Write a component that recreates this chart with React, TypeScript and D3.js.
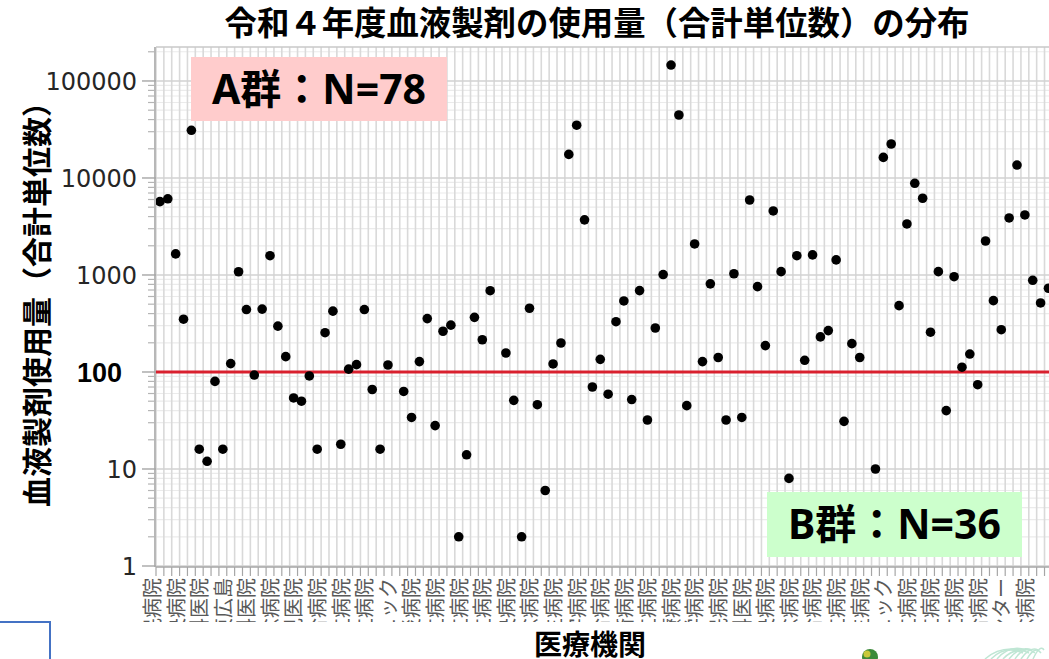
import React from "react";
import * as d3 from "d3";

// 使用量（合計単位数）— 医療機関の並び順どおり。null は描かれていない施設
const usage: (number | null)[] = [
  5700, 6100, 1650, 350, 31000, 16, 12, 80, 16, 122,
  1080, 440, 93, 445, 1580, 297, 144, 54, 50, 91,
  16, 254, 424, 18, 107, 119, 440, 66, 16, 118,
  null, 63, 34, 128, 355, 28, 263, 304, 2, 14,
  366, 215, 689, null, 157, 51, 2, 454, 46, 6,
  121, 199, 17500, 35000, 3700, 70, 135, 59, 330, 540,
  52, 690, 32, 284, 1010, 146000, 44600, 45, 2090, 128,
  810, 141, 32, 1030, 34, 5930, 758, 187, 4570, 1082,
  8, 1580, 132, 1610, 230, 267, 1430, 31, 196, 141,
  null, 10, 16300, 22400, 483, 3360, 8810, 6180, 257, 1082,
  40, 960, 112, 153, 74, 2240, 544, 273, 3870, 13600,
  4160, 882, 515, 730,
];

// 3施設ごとに表示されている軸ラベル（下側はスライドで隠れている）
const shownLabels = [
  "市民病院", "中央病院", "内科医院", "東広島", "外科医院", "記念病院",
  "小児医院", "総合病院", "協立病院", "共立病院", "クリニック", "労災病院",
  "市立病院", "町立病院", "県立病院", "中央病院", "記念病院", "厚生病院",
  "赤十字病院", "総合病院", "共済病院", "国立病院", "医療病院", "大学病院",
  "市民病院", "眼科医院", "中央病院", "記念病院", "総合病院", "協立病院",
  "厚生病院", "クリニック", "市立病院", "町立病院", "県立病院", "総合病院",
  "医療センター", "記念病院",
];
const labelStep = 3;

const yTickValues = [1, 10, 1000, 10000, 100000];
const refValue = 100;

const title = "令和４年度血液製剤の使用量（合計単位数）の分布";
const yTitle = "血液製剤使用量（合計単位数）";
const xTitle = "医療機関";
const groupA = "A群：N=78";
const groupB = "B群：N=36";

const W = 1049;
const H = 659;
const plot = { left: 156, top: 47, bottom: 566, right: 1049 };
const bandW = 7.863;

const jp = "'Noto Sans', 'Noto Sans CJK JP', sans-serif";

export default function App() {
  const x = d3
    .scaleBand<number>()
    .domain(d3.range(usage.length))
    .range([plot.left, plot.left + bandW * usage.length])
    .padding(0);
  const y = d3.scaleLog().domain([1, 224000]).range([plot.bottom, plot.top]);

  // 対数目盛りの補助線
  const minor: number[] = [];
  const major: number[] = [];
  for (let d = 0; d <= 5; d++) {
    for (let m = 1; m <= 9; m++) {
      const v = m * Math.pow(10, d);
      if (v > 224000) continue;
      if (m === 1) major.push(v);
      else minor.push(v);
    }
  }

  const bounds = d3.range(usage.length + 1).map((i) => plot.left + i * x.bandwidth());
  const cx = (i: number) => (x(i) as number) + x.bandwidth() / 2;

  return (
    <div style={{ position: "absolute", left: 0, top: 0, width: W, height: H, overflow: "hidden", background: "#fff" }}>
      <svg width={W} height={H} style={{ display: "block" }}>
        <defs>
          <clipPath id="plotClip">
            <rect x={plot.left} y={plot.top} width={plot.right - plot.left} height={plot.bottom - plot.top + 2} />
          </clipPath>
          <clipPath id="labelClip">
            <rect x={0} y={plot.bottom} width={W} height={622 - plot.bottom} />
          </clipPath>
        </defs>

        {/* grid */}
        <g clipPath="url(#plotClip)">
          {minor.map((v) => (
            <line key={"mn" + v} x1={plot.left} x2={plot.right} y1={y(v)} y2={y(v)} stroke="#ebebeb" strokeWidth={1.2} />
          ))}
          {bounds.map((bx, i) => (
            <line key={"vx" + i} x1={bx} x2={bx} y1={plot.top} y2={plot.bottom} stroke="#d9d9d9" strokeWidth={1.6} />
          ))}
          {major.map((v) => (
            <line key={"mj" + v} x1={plot.left} x2={plot.right} y1={y(v)} y2={y(v)} stroke="#d2d2d2" strokeWidth={1.6} />
          ))}
        </g>

        {/* frame */}
        <line x1={plot.left} x2={plot.right} y1={plot.top} y2={plot.top} stroke="#c8c8c8" strokeWidth={1.6} />
        <line x1={plot.left - 1} x2={plot.left - 1} y1={plot.top} y2={plot.bottom + 1} stroke="#a6a6a6" strokeWidth={1.6} />
        <line x1={plot.left} x2={plot.right} y1={plot.bottom + 1} y2={plot.bottom + 1} stroke="#a6a6a6" strokeWidth={1.6} />

        {/* y ticks */}
        {major.map((v) => (
          <line key={"ytm" + v} x1={plot.left - 14} x2={plot.left} y1={y(v)} y2={y(v)} stroke="#a6a6a6" strokeWidth={1.4} />
        ))}
        {minor.map((v) => (
          <line key={"ytn" + v} x1={plot.left - 8} x2={plot.left} y1={y(v)} y2={y(v)} stroke="#b5b5b5" strokeWidth={1.2} />
        ))}
        {yTickValues.map((v) => (
          <text
            key={"yl" + v}
            x={137}
            y={y(v)}
            dy="0.36em"
            textAnchor="end"
            fontFamily="'DejaVu Sans', Verdana, sans-serif"
            fontSize={24}
            fill="#262626"
          >
            {v}
          </text>
        ))}
        <text
          x={122}
          y={y(refValue)}
          dy="0.36em"
          textAnchor="end"
          fontFamily="'Liberation Sans', Arial, sans-serif"
          fontWeight="bold"
          fontSize={27}
          fill="#000"
        >
          {refValue}
        </text>

        {/* x ticks + labels */}
        {bounds.map((bx, i) => (
          <line key={"xt" + i} x1={bx} x2={bx} y1={plot.bottom + 1} y2={plot.bottom + 10} stroke="#a6a6a6" strokeWidth={1.2} />
        ))}
        <g clipPath="url(#labelClip)">
          {shownLabels.map((lab, k) => (
            <text
              key={"xl" + k}
              transform={`translate(${cx(k * labelStep)},${plot.bottom + 12}) rotate(-90)`}
              textAnchor="end"
              fontFamily={jp}
              fontSize={20}
              fill="#595959"
            >
              {lab}
            </text>
          ))}
        </g>

        {/* reference line at 100 */}
        <line x1={plot.left} x2={plot.right} y1={y(refValue)} y2={y(refValue)} stroke="#d9202e" strokeWidth={3} />

        {/* points */}
        <g clipPath="url(#plotClip)">
          {usage.map((v, i) =>
            v == null ? null : <circle key={"p" + i} cx={cx(i)} cy={y(v)} r={4.8} fill="#000" />
          )}
        </g>

        {/* group boxes */}
        <rect x={191} y={57} width={256} height={64} fill="#ffcccc" />
        <text x={319} y={89} dy="0.36em" textAnchor="middle" fontFamily={jp} fontWeight="bold" fontSize={41} fill="#000">
          {groupA}
        </text>
        <rect x={767} y={492} width={255} height={65} fill="#ccffcc" />
        <text x={894.5} y={524.5} dy="0.36em" textAnchor="middle" fontFamily={jp} fontWeight="bold" fontSize={41} fill="#000">
          {groupB}
        </text>

        {/* titles */}
        <text x={597} y={35} textAnchor="middle" fontFamily={jp} fontWeight="bold" fontSize={32.4} fill="#000">
          {title}
        </text>
        <text
          transform={`translate(48,${297}) rotate(-90)`}
          textAnchor="middle"
          fontFamily={jp}
          fontWeight="bold"
          fontSize={30}
          fill="#000"
        >
          {yTitle}
        </text>
        <text x={590} y={655} textAnchor="middle" fontFamily={jp} fontWeight="bold" fontSize={28} fill="#000">
          {xTitle}
        </text>

        {/* overlapping slide bits */}
        <rect x={-4} y={622} width={54} height={60} fill="none" stroke="#4472c4" strokeWidth={2} />
        <circle cx={870} cy={657} r={8} fill="#3d8a3a" />
        <circle cx={867} cy={654} r={3.5} fill="#c8c83a" />
        <g fill="none" stroke="#bfe6d4" strokeWidth={1.5}>
          {d3.range(9).map((k) => (
            <path key={"f" + k} d={`M${985 + k * 6},${659} Q${1000 + k * 5},${646 - (k % 3)} ${1020 + k * 3},${650 + (k % 2) * 3}`} />
          ))}
        </g>
      </svg>
    </div>
  );
}
